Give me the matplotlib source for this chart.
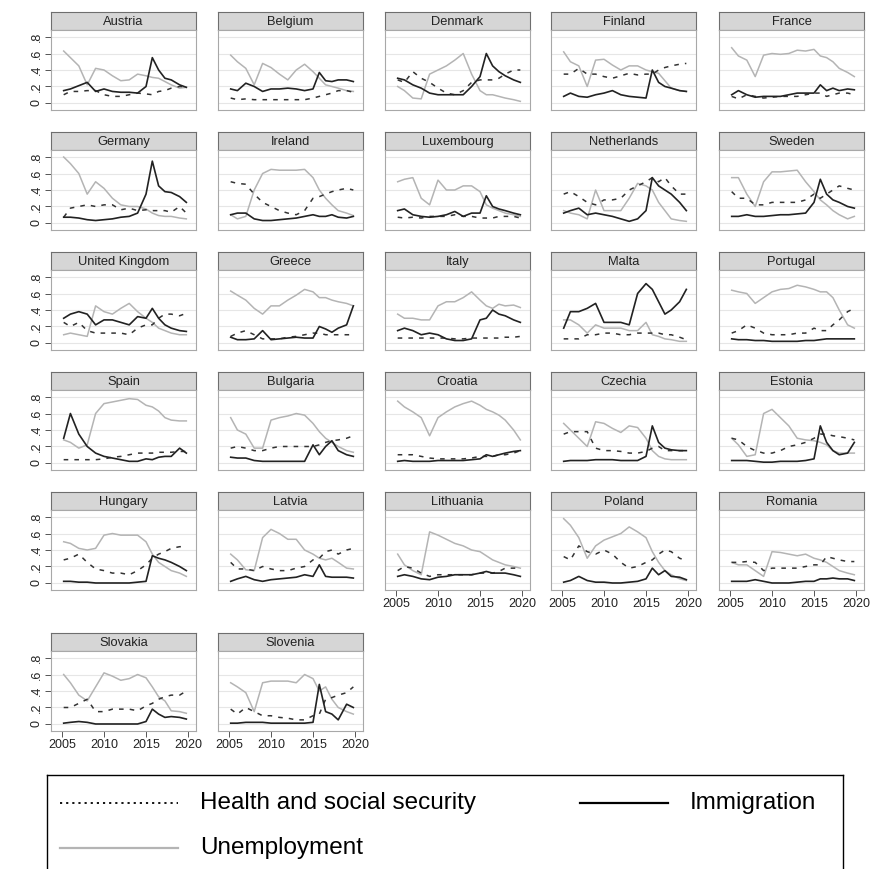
import matplotlib
matplotlib.use("Agg")
import matplotlib.pyplot as plt

W, H = 871, 869

years = [2005.2, 2006, 2007, 2008, 2009, 2010, 2011, 2012, 2013, 2014,
         2015, 2015.75, 2016.5, 2017.25, 2018, 2019, 2019.8]

countries = ["Austria", "Belgium", "Denmark", "Finland", "France",
             "Germany", "Ireland", "Luxembourg", "Netherlands", "Sweden",
             "United Kingdom", "Greece", "Italy", "Malta", "Portugal",
             "Spain", "Bulgaria", "Croatia", "Czechia", "Estonia",
             "Hungary", "Latvia", "Lithuania", "Poland", "Romania",
             "Slovakia", "Slovenia"]

# Health and social security (dashed)
health = {
    "Austria":        [.10, .14, .14, .15, .15, .10, .08, .08, .10, .12, .11, .10, .14, .15, .18, .20, .20],
    "Belgium":        [.06, .04, .05, .04, .04, .04, .04, .04, .04, .04, .06, .08, .10, .12, .15, .15, .13],
    "Denmark":        [.28, .25, .38, .30, .25, .18, .12, .10, .15, .25, .28, .28, .28, .30, .35, .40, .40],
    "Finland":        [.35, .35, .42, .35, .35, .32, .30, .33, .36, .34, .35, .35, .40, .43, .45, .47, .48],
    "France":         [.08, .05, .10, .08, .06, .07, .08, .08, .08, .10, .12, .12, .08, .10, .12, .12, .10],
    "Germany":        [.07, .18, .20, .22, .20, .22, .22, .16, .18, .15, .16, .15, .15, .15, .13, .20, .12],
    "Ireland":        [.50, .48, .47, .35, .25, .20, .15, .12, .10, .15, .30, .32, .35, .38, .40, .42, .40],
    "Luxembourg":     [.07, .06, .07, .06, .08, .08, .08, .10, .08, .08, .06, .06, .06, .08, .08, .08, .06],
    "Netherlands":    [.35, .38, .32, .25, .22, .28, .28, .30, .40, .45, .50, .55, .50, .55, .45, .35, .35],
    "Sweden":         [.38, .30, .30, .22, .22, .25, .25, .25, .25, .28, .35, .30, .35, .40, .45, .42, .40],
    "United Kingdom": [.25, .20, .25, .15, .12, .12, .12, .12, .10, .18, .22, .22, .30, .35, .35, .33, .36],
    "Greece":         [.08, .12, .15, .10, .05, .05, .05, .07, .08, .10, .12, .12, .10, .10, .10, .10, .10],
    "Italy":          [.06, .06, .06, .06, .06, .06, .06, .05, .05, .06, .06, .06, .06, .06, .07, .07, .08],
    "Malta":          [.05, .05, .05, .10, .10, .12, .12, .10, .10, .12, .12, .12, .12, .10, .10, .07, .04],
    "Portugal":       [.12, .15, .22, .18, .12, .10, .10, .10, .12, .12, .18, .15, .15, .22, .28, .38, .42],
    "Spain":          [.04, .04, .04, .04, .04, .05, .07, .08, .10, .12, .12, .12, .13, .13, .13, .14, .14],
    "Bulgaria":       [.18, .20, .18, .15, .15, .18, .20, .20, .20, .20, .20, .22, .25, .27, .28, .30, .33],
    "Croatia":        [.10, .10, .10, .08, .06, .05, .05, .05, .05, .06, .08, .08, .08, .10, .10, .12, .15],
    "Czechia":        [.35, .38, .38, .38, .18, .15, .15, .14, .12, .12, .14, .18, .20, .15, .15, .15, .15],
    "Estonia":        [.30, .28, .20, .15, .12, .12, .15, .20, .22, .25, .30, .35, .35, .33, .32, .30, .28],
    "Hungary":        [.28, .30, .35, .25, .17, .15, .12, .12, .10, .15, .22, .30, .35, .38, .42, .44, .44],
    "Latvia":         [.25, .17, .17, .15, .20, .17, .15, .15, .18, .20, .28, .30, .38, .40, .35, .40, .42],
    "Lithuania":      [.15, .20, .18, .12, .08, .10, .10, .10, .10, .10, .12, .12, .12, .14, .18, .18, .18],
    "Poland":         [.32, .28, .45, .38, .35, .40, .35, .25, .18, .20, .25, .28, .35, .40, .38, .30, .27],
    "Romania":        [.25, .25, .26, .25, .15, .18, .18, .18, .18, .20, .22, .22, .32, .30, .28, .26, .26],
    "Slovakia":       [.20, .20, .25, .30, .15, .15, .18, .18, .18, .16, .22, .25, .30, .33, .35, .35, .40],
    "Slovenia":       [.18, .12, .20, .15, .10, .10, .08, .07, .05, .05, .10, .12, .30, .32, .35, .38, .45],
}

# Immigration (solid black)
immig = {
    "Austria":        [.15, .17, .21, .25, .14, .17, .14, .13, .13, .12, .20, .55, .40, .30, .28, .22, .19],
    "Belgium":        [.17, .15, .24, .20, .14, .17, .17, .18, .17, .15, .17, .37, .27, .26, .28, .28, .26],
    "Denmark":        [.30, .28, .22, .18, .12, .10, .10, .10, .10, .20, .32, .60, .45, .38, .33, .28, .25],
    "Finland":        [.08, .12, .08, .07, .10, .12, .15, .10, .08, .07, .06, .40, .25, .20, .18, .15, .14],
    "France":         [.10, .15, .10, .07, .08, .08, .08, .10, .12, .12, .12, .22, .15, .18, .15, .17, .16],
    "Germany":        [.07, .07, .06, .04, .03, .04, .05, .07, .08, .12, .35, .75, .45, .38, .37, .32, .25],
    "Ireland":        [.10, .12, .12, .05, .03, .03, .04, .05, .06, .08, .10, .08, .08, .10, .07, .06, .08],
    "Luxembourg":     [.15, .17, .10, .08, .07, .08, .10, .14, .08, .12, .12, .33, .20, .17, .15, .12, .10],
    "Netherlands":    [.12, .15, .18, .10, .12, .10, .08, .05, .02, .05, .15, .55, .45, .40, .35, .25, .15],
    "Sweden":         [.08, .08, .10, .08, .08, .09, .10, .10, .11, .12, .25, .53, .35, .28, .25, .20, .18],
    "United Kingdom": [.30, .35, .38, .35, .22, .28, .28, .25, .22, .32, .30, .42, .30, .22, .18, .15, .14],
    "Greece":         [.07, .04, .04, .05, .15, .04, .05, .06, .07, .06, .06, .20, .17, .13, .18, .22, .45],
    "Italy":          [.15, .18, .15, .10, .12, .10, .05, .03, .03, .05, .28, .30, .40, .35, .33, .28, .25],
    "Malta":          [.18, .38, .38, .42, .48, .25, .25, .25, .22, .60, .72, .65, .50, .35, .40, .50, .65],
    "Portugal":       [.05, .04, .04, .03, .03, .02, .02, .02, .02, .03, .03, .04, .05, .05, .05, .05, .05],
    "Spain":          [.30, .60, .35, .20, .12, .08, .06, .04, .02, .02, .05, .04, .07, .08, .08, .18, .12],
    "Bulgaria":       [.07, .06, .06, .03, .02, .02, .02, .02, .02, .02, .22, .10, .20, .27, .15, .10, .08],
    "Croatia":        [.02, .03, .02, .02, .02, .03, .03, .03, .03, .04, .05, .10, .08, .10, .12, .14, .15],
    "Czechia":        [.02, .03, .03, .03, .04, .04, .04, .03, .03, .03, .08, .45, .25, .18, .16, .15, .15],
    "Estonia":        [.03, .03, .03, .02, .01, .01, .02, .02, .02, .03, .05, .45, .25, .15, .10, .12, .25],
    "Hungary":        [.02, .02, .01, .01, .00, .00, .00, .00, .00, .01, .02, .33, .30, .28, .25, .20, .15],
    "Latvia":         [.02, .05, .08, .04, .02, .04, .05, .06, .07, .10, .08, .22, .08, .07, .07, .07, .06],
    "Lithuania":      [.08, .10, .08, .05, .04, .07, .08, .10, .10, .10, .12, .14, .12, .12, .12, .10, .08],
    "Poland":         [.01, .03, .08, .03, .01, .01, .00, .00, .01, .02, .05, .18, .10, .15, .08, .07, .04],
    "Romania":        [.02, .02, .02, .04, .02, .00, .00, .00, .01, .02, .02, .05, .05, .06, .05, .05, .03],
    "Slovakia":       [.01, .02, .03, .02, .00, .00, .00, .00, .00, .00, .03, .18, .12, .08, .09, .08, .06],
    "Slovenia":       [.01, .01, .02, .02, .02, .01, .01, .01, .01, .01, .02, .48, .15, .12, .05, .24, .20],
}

# Unemployment (solid grey)
unemp = {
    "Austria":        [.63, .55, .45, .22, .42, .40, .33, .27, .28, .35, .33, .31, .30, .26, .22, .18, .19],
    "Belgium":        [.58, .50, .42, .22, .48, .43, .35, .28, .40, .47, .38, .30, .22, .20, .18, .15, .14],
    "Denmark":        [.20, .15, .06, .05, .35, .40, .45, .52, .60, .35, .15, .10, .10, .08, .06, .04, .02],
    "Finland":        [.62, .50, .45, .20, .52, .53, .46, .40, .45, .45, .40, .38, .36, .27, .18, .15, .14],
    "France":         [.67, .57, .52, .32, .58, .60, .59, .60, .64, .63, .65, .57, .55, .50, .42, .37, .32],
    "Germany":        [.80, .72, .60, .35, .50, .42, .30, .22, .20, .20, .17, .12, .09, .08, .08, .06, .05],
    "Ireland":        [.10, .05, .08, .40, .60, .65, .64, .64, .64, .65, .55, .40, .30, .22, .15, .12, .09],
    "Luxembourg":     [.50, .53, .55, .30, .22, .52, .40, .40, .45, .45, .38, .22, .18, .15, .12, .10, .08],
    "Netherlands":    [.15, .12, .10, .05, .40, .15, .15, .15, .30, .48, .45, .40, .25, .15, .05, .03, .02],
    "Sweden":         [.55, .55, .35, .20, .50, .62, .62, .63, .64, .50, .38, .28, .22, .15, .10, .05, .08],
    "United Kingdom": [.10, .12, .10, .08, .45, .38, .35, .42, .48, .38, .30, .25, .18, .15, .12, .10, .10],
    "Greece":         [.63, .58, .52, .42, .35, .45, .45, .52, .58, .65, .62, .55, .55, .52, .50, .48, .45],
    "Italy":          [.35, .30, .30, .28, .28, .45, .50, .50, .55, .62, .52, .45, .42, .47, .45, .46, .43],
    "Malta":          [.28, .28, .22, .12, .22, .18, .18, .18, .15, .15, .25, .10, .08, .05, .04, .02, .02],
    "Portugal":       [.64, .62, .60, .48, .55, .62, .65, .66, .70, .68, .65, .62, .62, .55, .40, .22, .18],
    "Spain":          [.28, .25, .18, .22, .60, .72, .74, .76, .78, .77, .70, .68, .63, .55, .52, .51, .51],
    "Bulgaria":       [.55, .40, .35, .18, .18, .52, .55, .57, .60, .58, .48, .38, .30, .25, .20, .15, .13],
    "Croatia":        [.75, .68, .62, .55, .33, .55, .62, .68, .72, .75, .70, .65, .62, .58, .52, .40, .28],
    "Czechia":        [.48, .40, .30, .20, .50, .48, .42, .37, .45, .43, .30, .15, .08, .05, .04, .04, .04],
    "Estonia":        [.30, .22, .08, .10, .60, .65, .55, .45, .30, .28, .27, .25, .22, .15, .12, .12, .12],
    "Hungary":        [.50, .48, .42, .40, .42, .58, .60, .58, .58, .58, .50, .35, .25, .20, .15, .12, .08],
    "Latvia":         [.35, .28, .16, .15, .55, .65, .60, .53, .53, .40, .35, .30, .28, .30, .25, .18, .17],
    "Lithuania":      [.35, .22, .15, .10, .62, .58, .53, .48, .45, .40, .38, .33, .28, .25, .22, .20, .18],
    "Poland":         [.78, .70, .55, .30, .45, .52, .56, .60, .68, .62, .55, .38, .25, .15, .10, .05, .03],
    "Romania":        [.25, .22, .22, .15, .08, .38, .37, .35, .33, .35, .30, .28, .25, .20, .15, .12, .10],
    "Slovakia":       [.60, .50, .35, .28, .45, .62, .58, .53, .55, .60, .56, .45, .33, .28, .16, .15, .13],
    "Slovenia":       [.50, .45, .38, .15, .50, .52, .52, .52, .50, .60, .55, .40, .45, .30, .20, .15, .12],
}

yticks = [0, .2, .4, .6, .8]
ytick_labels = ["0", ".2", ".4", ".6", ".8"]
xticks = [2005, 2010, 2015, 2020]

plt.rcParams["font.family"] = ["Liberation Sans", "DejaVu Sans"]

fig = plt.figure(figsize=(W / 100, H / 100), dpi=100)


def px_axes(x, y, w, h):
    # rectangle in pixels from the top-left corner
    return fig.add_axes([x / W, 1 - (y + h) / H, w / W, h / H])


col_x = [51, 218, 385, 551, 719]
row_y = [12, 132, 252, 372, 492, 633]
pw, strip_h, plot_h = 145, 18, 80

for i, name in enumerate(countries):
    r, c = divmod(i, 5)
    x0, y0 = col_x[c], row_y[r]

    st = px_axes(x0, y0, pw, strip_h)
    st.set_facecolor("#d6d6d6")
    st.set_xticks([])
    st.set_yticks([])
    for s in st.spines.values():
        s.set_color("#6e6e6e")
        s.set_linewidth(0.8)
    st.text(0.5, 0.45, name, ha="center", va="center", fontsize=9.3,
            color="#222222", transform=st.transAxes)

    ax = px_axes(x0, y0 + strip_h, pw, plot_h)
    ax.set_xlim(2003.69, 2020.95)
    ax.set_ylim(-0.085, 0.885)
    for yv in yticks:
        ax.axhline(yv, color="#e6e6e6", lw=0.8, zorder=0)
    ax.plot(years, unemp[name], color="#b4b4b4", lw=1.1, zorder=2)
    ax.plot(years, health[name], color="#333333", lw=1.1,
            dashes=(3, 4), zorder=3)
    ax.plot(years, immig[name], color="#222222", lw=1.2, zorder=4)
    for s in ax.spines.values():
        s.set_color("#a8a8a8")
        s.set_linewidth(0.8)

    if c == 0:
        ax.set_yticks(yticks)
        ax.set_yticklabels(ytick_labels, rotation=90, va="center")
    else:
        ax.set_yticks([])
    if i + 5 >= len(countries):
        ax.set_xticks(xticks)
        ax.set_xticklabels([str(t) for t in xticks])
    else:
        ax.set_xticks([])
    ax.tick_params(direction="out", length=4, width=0.7, color="#555555",
                   labelsize=9, labelcolor="#222222", pad=2)

# legend box (bottom edge runs off the figure)
lg = px_axes(47, 775, 796, 200)
lg.set_xlim(0, 796)
lg.set_ylim(200, 0)
lg.set_xticks([])
lg.set_yticks([])
for s in lg.spines.values():
    s.set_color("black")
    s.set_linewidth(1.0)
lg.plot([13, 131], [28, 28], color="black", lw=1.3, linestyle=(0, (1.2, 2.2)))
lg.text(153, 28, "Health and social security", fontsize=17.5, va="center")
lg.plot([533, 621], [28, 28], color="black", lw=1.6)
lg.text(643, 28, "Immigration", fontsize=17.5, va="center")
lg.plot([13, 131], [73, 73], color="#b4b4b4", lw=1.6)
lg.text(153, 73, "Unemployment", fontsize=17.5, va="center")

fig.savefig("out.png", dpi=100)
